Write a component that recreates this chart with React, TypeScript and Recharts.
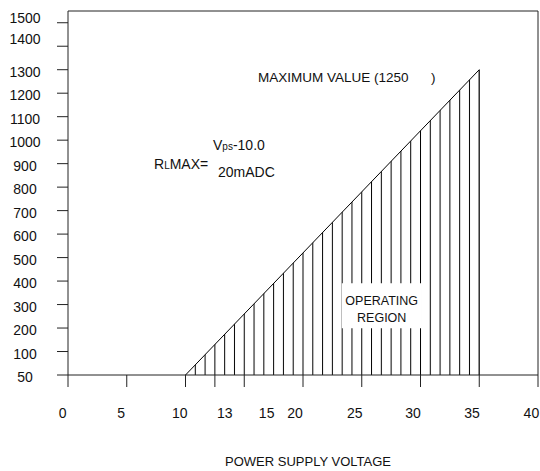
import { ComposedChart, Area, XAxis, YAxis, ReferenceLine, ReferenceArea, Customized } from 'recharts';

// maximum load resistance vs power supply voltage
const voltage = [10, 35];
const rlMax = [50, 1300];

const xTicks = [0, 5, 10, 12.5, 15, 20, 25, 30, 35, 40];
const xTickLabels = ['0', '5', '10', '13', '15', '20', '25', '30', '35', '40'];
const yTickValues = [50, 100, 200, 300, 400, 500, 600, 700, 800, 900, 1000, 1100, 1200, 1300, 1400, 1500];

// the printed axis is squeezed at the bottom: 50 sits where 0 would be
const toAxis = (r: number) => (r < 100 ? (r - 50) * 2 : r);

const data = voltage.map((v, i) => ({ v, r: toAxis(rlMax[i]) }));

const W = 540;
const H = 471;
const PLOT_L = 68;
const PLOT_R = 538;
const PLOT_T = 11;
const PLOT_B = 375;
const FONT = '"Liberation Sans", Arial, sans-serif';
const INK = '#222';

const xPx = (v: number) => PLOT_L + (v / 40) * (PLOT_R - PLOT_L);
const HATCH_STEP = (xPx(35) - xPx(10)) / 30;

// label nudges copied from the printed figure
const xLabelShift = [-5.3, -5.7, -5.8, 10, 22.4, -8, -7, -7.5, -7.2, -6.6];

const XTick = (props: any) => {
  const { x, payload, index } = props;
  return (
    <text x={x + (xLabelShift[index] ?? 0)} y={PLOT_B + 43} textAnchor="middle" fontSize={14} fontFamily={FONT} fill="#111">
      {xTickLabels[index] ?? payload.value}
    </text>
  );
};

const YTick = (props: any) => {
  const { y, index } = props;
  const label = String(yTickValues[index]);
  const dy = label === '1500' ? 0 : label === '1400' ? -2 : 7;
  return (
    <text x={25} y={y + dy} textAnchor="middle" fontSize={14} fontFamily={FONT} fill="#111">
      {label}
    </text>
  );
};

const RegionLabel = (props: any) => {
  const vb = props.viewBox || {};
  const cx = vb.x + vb.width / 2;
  return (
    <g fontFamily={FONT} fontSize={12.5} fill="#111" textAnchor="middle">
      <text x={cx} y={vb.y + 22}>OPERATING</text>
      <text x={cx} y={vb.y + 38.5}>REGION</text>
    </g>
  );
};

const Notes = () => (
  <g fontFamily={FONT} fill="#111">
    <text x={258} y={82} fontSize={13.5}>MAXIMUM VALUE (1250</text>
    <text x={431} y={82} fontSize={13.5}>)</text>
    <text x={154} y={169} fontSize={14}>
      R<tspan fontSize={10}>L</tspan>MAX=
    </text>
    <text x={213} y={150} fontSize={14}>
      V<tspan fontSize={10}>ps</tspan>-10.0
    </text>
    <text x={218} y={177} fontSize={14}>20mADC</text>
    <text x={308} y={466} fontSize={13} textAnchor="middle">POWER SUPPLY VOLTAGE</text>
  </g>
);

export default function App() {
  return (
    <div style={{ position: 'absolute', left: 0, top: 0, width: W, height: H, background: '#fff' }}>
      <ComposedChart width={W} height={H} data={data} margin={{ top: PLOT_T, right: W - PLOT_R, left: 0, bottom: 0 }}>
        <defs>
          <pattern id="hatch" patternUnits="userSpaceOnUse" x={xPx(10) - 0.5} y={0} width={HATCH_STEP} height={8}>
            <rect x={0} y={0} width={1} height={8} fill="#000" />
          </pattern>
        </defs>
        <XAxis
          dataKey="v"
          type="number"
          domain={[0, 40]}
          ticks={xTicks}
          interval={0}
          height={H - PLOT_B}
          tickSize={12}
          axisLine={{ stroke: INK }}
          tickLine={{ stroke: INK }}
          tick={<XTick />}
        />
        <YAxis
          type="number"
          domain={[0, 1550]}
          ticks={yTickValues.map(toAxis)}
          interval={0}
          width={PLOT_L}
          tickSize={11}
          axisLine={{ stroke: INK }}
          tickLine={{ stroke: INK }}
          tick={<YTick />}
        />
        <ReferenceLine y={1550} stroke={INK} />
        <ReferenceLine x={40} stroke={INK} />
        <Area
          type="linear"
          dataKey="r"
          stroke="#000"
          strokeWidth={1}
          fill="url(#hatch)"
          fillOpacity={1}
          dot={false}
          activeDot={false}
          isAnimationActive={false}
        />
        <ReferenceLine segment={[{ x: 35, y: 0 }, { x: 35, y: toAxis(1300) }]} stroke="#000" />
        <ReferenceArea x1={23.3} x2={30.1} y1={199} y2={391} fill="#fff" fillOpacity={1} stroke="none" label={<RegionLabel />} />
        <Customized component={Notes} />
      </ComposedChart>
    </div>
  );
}
